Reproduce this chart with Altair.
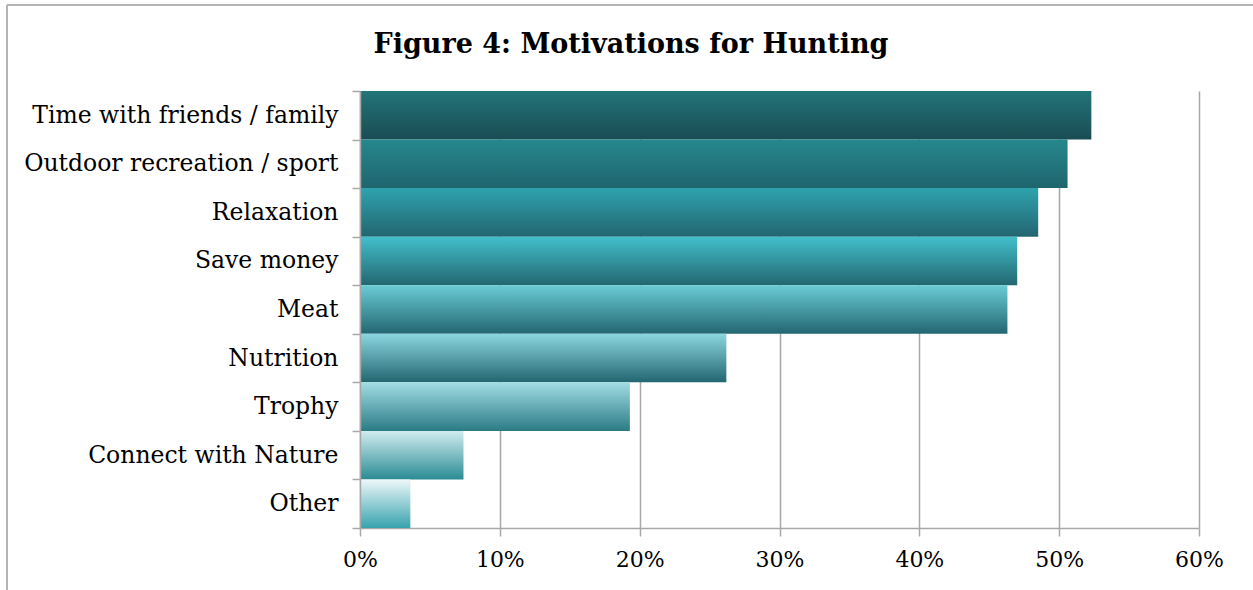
import altair as alt
import pandas as pd

categories = [
    "Time with friends / family",
    "Outdoor recreation / sport",
    "Relaxation",
    "Save money",
    "Meat",
    "Nutrition",
    "Trophy",
    "Connect with Nature",
    "Other",
]
values = [52.3, 50.6, 48.5, 47.0, 46.3, 26.2, 19.3, 7.4, 3.6]
x_ticks = [0, 10, 20, 30, 40, 50, 60]
title_text = "Figure 4: Motivations for Hunting"

top_colors = ["#217579", "#26878e", "#2ea3ae", "#42bfcc", "#6accd6",
              "#8cd6df", "#a3dde4", "#d0edf0", "#eef8f9"]
bottom_colors = ["#1a4c53", "#1f656d", "#236570", "#236770", "#236670",
                 "#226670", "#2a7b85", "#2b8b94", "#37a3ae"]

df = pd.DataFrame({"cat": categories, "val": values})

FONT = "DejaVu Serif"
GRID = "#a8a8a8"

x_axis = alt.Axis(
    values=x_ticks, labelExpr="datum.value + '%'", title=None,
    grid=True, gridColor=GRID, gridWidth=1.5, labelFlush=False,
    domainColor=GRID, domainWidth=1.5, tickColor=GRID, tickWidth=1.5, tickSize=8,
    labelFont=FONT, labelFontSize=22, labelColor="black", labelPadding=13,
)
y_axis = alt.Axis(
    title=None, tickBand="extent", grid=False, labelLimit=500, zindex=1,
    domainColor=GRID, domainWidth=1.5, tickColor=GRID, tickWidth=1.5, tickSize=8,
    labelFont=FONT, labelFontSize=23.5, labelColor="black", labelPadding=14,
)

layers = []
for cat, top, bot in zip(categories, top_colors, bottom_colors):
    layers.append(
        alt.Chart(df)
        .transform_filter(alt.datum.cat == cat)
        .mark_bar(
            color=alt.Gradient(
                gradient="linear",
                stops=[alt.GradientStop(color=top, offset=0),
                       alt.GradientStop(color=bot, offset=1)],
                x1=0, x2=0, y1=0, y2=1,
            )
        )
        .encode(
            x=alt.X("val:Q", scale=alt.Scale(domain=[0, 60], nice=False), axis=x_axis),
            y=alt.Y("cat:N", sort=categories,
                    scale=alt.Scale(domain=categories, paddingInner=0, paddingOuter=0),
                    axis=y_axis),
        )
    )

one = pd.DataFrame({"t": [title_text]})
left_border = alt.Chart(one).mark_rule(color="#b4b4b4", strokeWidth=2).encode(
    x=alt.value(-353), y=alt.value(-86), y2=alt.value(520)
)
top_border = alt.Chart(one).mark_rule(color="#b4b4b4", strokeWidth=2).encode(
    x=alt.value(-353), x2=alt.value(900), y=alt.value(-86)
)
title = alt.Chart(one).mark_text(
    font=FONT, fontSize=27, fontWeight="bold", color="black",
    align="center", baseline="alphabetic",
).encode(x=alt.value(271), y=alt.value(-38), text="t:N")

chart = (
    alt.layer(*layers, left_border, top_border, title)
    .properties(
        width=839,
        height=437,
        autosize=alt.AutoSizeParams(type="none"),
        padding={"left": 360, "top": 91, "right": 54, "bottom": 62},
    )
    .configure_view(stroke="transparent", strokeWidth=0)
    .configure(background="white", style={"cell": {"stroke": "transparent", "strokeWidth": 0}})
)

chart.save("out.html", embed_options={"renderer": "svg", "actions": False})
